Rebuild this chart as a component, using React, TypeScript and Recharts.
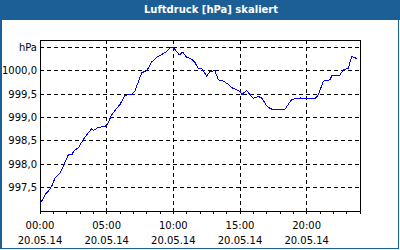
import { LineChart, Line, XAxis, YAxis, CartesianGrid, ReferenceArea } from 'recharts';

// Stunden seit 00:00 (20.05.14) und Luftdruck in hPa
const hours = [
  0.0, 0.13, 0.38, 0.62, 0.88, 1.13, 1.5, 1.75, 2.12, 2.38, 2.55, 2.87, 3.25, 3.62, 3.88, 4.0,
  4.37, 4.87, 5.05, 5.38, 5.7, 6.0, 6.38, 6.88, 7.12, 7.63, 8.0, 8.38, 8.75, 9.25, 9.5, 9.75,
  10.0, 10.12, 10.45, 10.7, 11.0, 11.38, 11.62, 11.87, 12.12, 12.5, 12.75, 13.12, 13.37, 13.75,
  14.12, 14.38, 15.0, 15.13, 15.5, 15.75, 16.0, 16.37, 16.63, 17.05, 17.38, 18.38, 18.88, 19.5,
  20.0, 20.62, 20.88, 21.25, 21.75, 21.88, 22.5, 22.75, 23.12, 23.38, 23.62, 23.8,
];
const pressure = [
  997.18, 997.21, 997.35, 997.42, 997.53, 997.71, 997.81, 997.96, 998.2, 998.2, 998.29, 998.35,
  998.53, 998.67, 998.76, 998.72, 998.79, 998.81, 998.85, 999.06, 999.18, 999.28, 999.48, 999.49,
  999.57, 999.96, 1000.0, 1000.19, 1000.29, 1000.37, 1000.41, 1000.49, 1000.49, 1000.46, 1000.34,
  1000.4, 1000.29, 1000.25, 1000.18, 1000.05, 1000.05, 999.89, 999.99, 1000.0, 999.81, 999.78,
  999.71, 999.64, 999.56, 999.49, 999.58, 999.49, 999.41, 999.45, 999.42, 999.23, 999.18, 999.18,
  999.39, 999.42, 999.4, 999.4, 999.49, 999.78, 999.81, 999.89, 999.91, 1000.03, 1000.05,
  1000.31, 1000.28, 1000.26,
];

const hourTicks = [0, 1, 2, 3, 4, 5, 6, 7, 8, 9, 10, 11, 12, 13, 14, 15, 16, 17, 18, 19, 20, 21, 22, 23, 24];
const gridHours = [5, 10, 15, 20];
const timeLabels = ['00:00', '05:00', '10:00', '15:00', '20:00'];
const dateLabel = '20.05.14';

const pressureTicks = [997.5, 998, 998.5, 999, 999.5, 1000, 1000.5];
const pressureLabels = ['997,5', '998,0', '998,5', '999,0', '999,5', '1000,0', 'hPa'];

const data = hours.map((h, i) => ({ h, p: pressure[i] }));

const font = '"DejaVu Sans", sans-serif';
const frameBlue = '#1c5f96';

function TimeTick(props: any) {
  const { x, y, payload } = props;
  if (payload.value % 5 !== 0 || payload.value >= 24) return null;
  const label = timeLabels[payload.value / 5];
  return (
    <text x={x} y={y} textAnchor="middle" fontFamily={font} fontSize={10} fill="#000">
      <tspan x={x} dy={15}>{label}</tspan>
      <tspan x={x} dy={15}>{dateLabel}</tspan>
    </text>
  );
}

export default function App() {
  return (
    <div style={{ position: 'absolute', left: 0, top: 0, width: 400, height: 250, background: '#fff', overflow: 'hidden' }}>
      <style>{`
        .recharts-cartesian-grid line,
        .recharts-reference-area-rect,
        .recharts-cartesian-axis-tick-line,
        .recharts-line-curve { shape-rendering: crispEdges; }
      `}</style>
      <div
        style={{
          position: 'absolute', left: 0, top: 0, width: 400, height: 20, background: frameBlue,
          color: '#fff', fontFamily: font, fontWeight: 'bold', fontSize: 10, lineHeight: '20px',
          textAlign: 'center', paddingLeft: 22, boxSizing: 'border-box',
        }}
      >
        Luftdruck [hPa] skaliert
      </div>
      <div style={{ position: 'absolute', left: 0, top: 0 }}>
        <LineChart width={400} height={250} data={data} margin={{ top: 40, right: 40, bottom: 0, left: 0 }}>
          <CartesianGrid
            stroke="#000"
            strokeDasharray="4 3"
            horizontalValues={pressureTicks}
            verticalValues={gridHours}
          />
          <XAxis
            dataKey="h"
            type="number"
            domain={[0, 24]}
            ticks={hourTicks}
            interval={0}
            height={39}
            axisLine={false}
            tickLine={{ stroke: '#000' }}
            tickSize={3}
            tickMargin={0}
            tick={<TimeTick />}
          />
          <YAxis
            type="number"
            domain={[997, 1000.66]}
            ticks={pressureTicks}
            interval={0}
            width={40}
            axisLine={false}
            tickLine={false}
            tickSize={0}
            tickMargin={3}
            tickFormatter={(v: number) => pressureLabels[pressureTicks.indexOf(v)]}
            tick={{ fill: '#000', fontSize: 10, fontFamily: font }}
          />
          <ReferenceArea x1={0} x2={24} y1={997} y2={1000.66} fill="none" stroke="#000" strokeWidth={1} ifOverflow="visible" />
          <Line type="linear" dataKey="p" stroke="#0000ff" strokeWidth={1} dot={false} isAnimationActive={false} />
        </LineChart>
      </div>
      <div
        style={{
          position: 'absolute', left: 0, top: 0, width: 399, height: 249, boxSizing: 'border-box',
          borderStyle: 'solid', borderColor: frameBlue, borderWidth: '0 1px 1px 2px', pointerEvents: 'none',
        }}
      />
    </div>
  );
}
